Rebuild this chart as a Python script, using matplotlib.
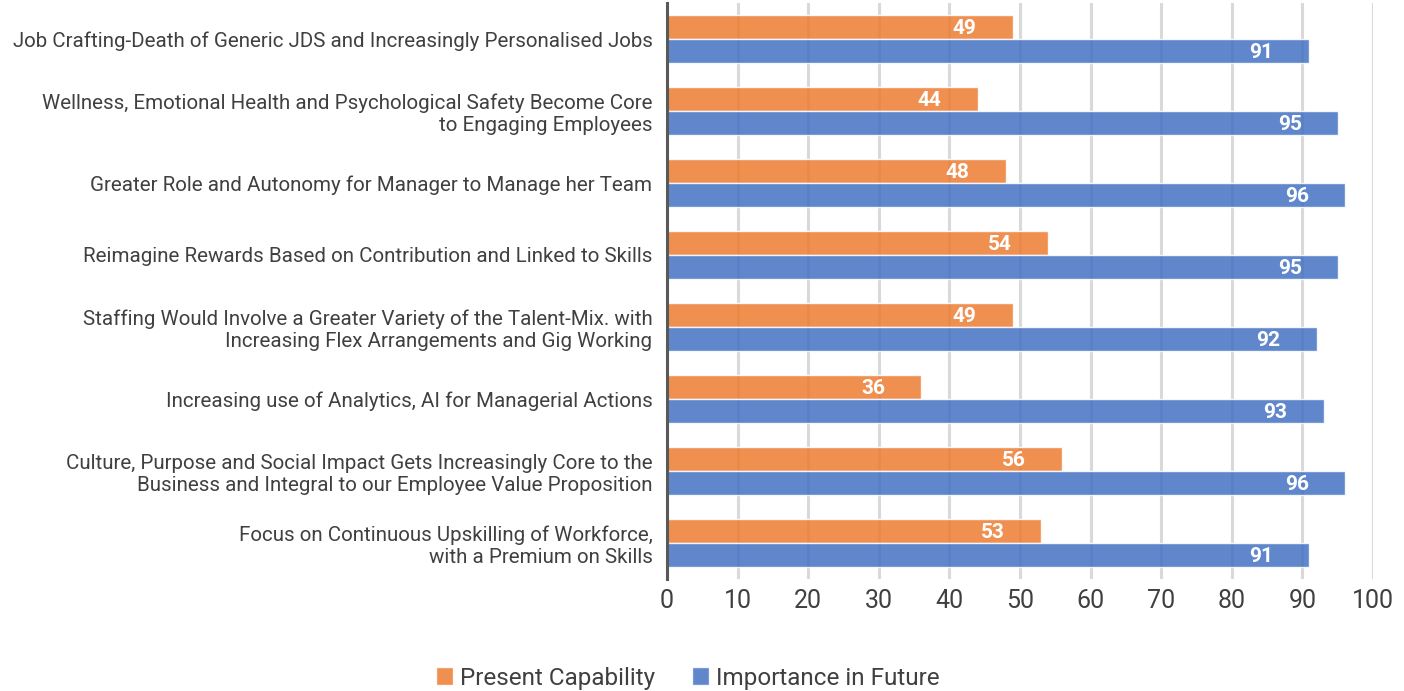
import matplotlib.pyplot as plt
import numpy as np
from matplotlib.patches import Patch

categories = [
    "Job Crafting-Death of Generic JDS and Increasingly Personalised Jobs",
    "Wellness, Emotional Health and Psychological Safety Become Core\nto Engaging Employees",
    "Greater Role and Autonomy for Manager to Manage her Team",
    "Reimagine Rewards Based on Contribution and Linked to Skills",
    "Staffing Would Involve a Greater Variety of the Talent-Mix. with\nIncreasing Flex Arrangements and Gig Working",
    "Increasing use of Analytics, AI for Managerial Actions",
    "Culture, Purpose and Social Impact Gets Increasingly Core to the\nBusiness and Integral to our Employee Value Proposition",
    "Focus on Continuous Upskilling of Workforce,\nwith a Premium on Skills",
]
present = [49, 44, 48, 54, 49, 36, 56, 53]
future = [91, 95, 96, 95, 92, 93, 96, 91]
series_names = ["Present Capability", "Importance in Future"]
xticks = list(range(0, 101, 10))

plt.rcParams['font.family'] = ['Roboto', 'DejaVu Sans']

fig = plt.figure(figsize=(14.04, 6.91), dpi=100)
ax = fig.add_axes([667/1404, 1-579/691, (1373-667)/1404, (579-3)/691])

orange = "#ED7D31"
blue = "#4472C4"
y = np.arange(len(categories))
h = 0.333
ax.barh(y - h/2, present, height=h, color=orange, alpha=0.85, edgecolor="white", linewidth=1, zorder=3)
ax.barh(y + h/2, future, height=h, color=blue, alpha=0.85, edgecolor="white", linewidth=1, zorder=3)

for yi, v in zip(y - h/2, present):
    ax.annotate(str(v), (v, yi), xytext=(-26, -1), textcoords="offset points",
                ha="right", va="center", color="white", fontsize=15, fontweight="bold", zorder=5)
for yi, v in zip(y + h/2, future):
    ax.annotate(str(v), (v, yi), xytext=(-26, -1), textcoords="offset points",
                ha="right", va="center", color="white", fontsize=15, fontweight="bold", zorder=5)

ax.set_xlim(0, 100)
ax.set_ylim(len(categories) - 0.5, -0.5)
ax.set_xticks(xticks)
ax.set_xticklabels([str(t) for t in xticks], fontsize=18, color="#404040")
ax.set_yticks(y)
ax.set_yticklabels(categories, fontsize=14.8, color="#404040", linespacing=1.2)
ax.tick_params(axis='both', length=0, pad=10.5)
ax.tick_params(axis='x', pad=7)
ax.xaxis.grid(True, color="#D9D9D9", linewidth=2.2, zorder=0)
ax.set_axisbelow(True)
for s in ["top", "right", "bottom"]:
    ax.spines[s].set_visible(False)
ax.spines["left"].set_color("#595959")
ax.spines["left"].set_linewidth(2.2)
ax.spines["left"].set_zorder(4)

handles = [Patch(facecolor=orange, alpha=0.85, edgecolor="white"), Patch(facecolor=blue, alpha=0.85, edgecolor="white")]
fig.legend(handles, series_names, loc="center", bbox_to_anchor=(0.49, 1 - 678/691), ncol=2,
           frameon=False, fontsize=17.5, handlelength=0.7, handleheight=0.7, handletextpad=0.3,
           columnspacing=1.5, labelcolor="#404040")

fig.savefig("out.png", dpi=100)
